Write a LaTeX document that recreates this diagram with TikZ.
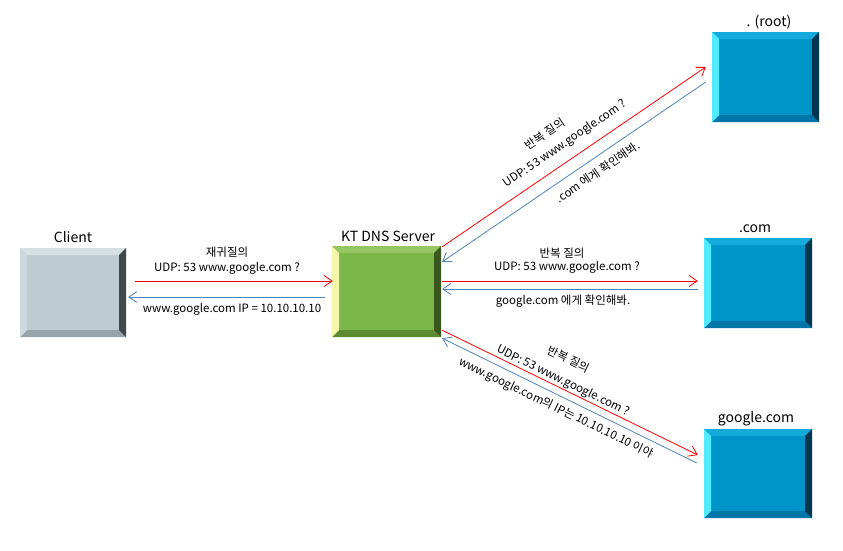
\documentclass[tikz,border=0pt]{standalone}
\usepackage{fontspec}
\setmainfont{Noto Sans CJK KR}
\usetikzlibrary{arrows.meta,calc}
\definecolor{redline}{HTML}{FF0000}
\definecolor{blueline}{HTML}{4F81BD}
\definecolor{gMain}{RGB}{189,204,209}
\definecolor{gTop}{RGB}{214,224,227}
\definecolor{gLeft}{RGB}{205,216,220}
\definecolor{gRight}{RGB}{64,74,77}
\definecolor{gBot}{RGB}{150,165,170}
\definecolor{vMain}{RGB}{122,182,72}
\definecolor{vTop}{RGB}{150,198,100}
\definecolor{vLeft}{RGB}{245,248,170}
\definecolor{vRight}{RGB}{58,88,30}
\definecolor{vBot}{RGB}{92,140,50}
\definecolor{bMain}{RGB}{0,148,200}
\definecolor{bTop}{RGB}{20,170,220}
\definecolor{bLeft}{RGB}{80,235,255}
\definecolor{bRight}{RGB}{0,55,80}
\definecolor{bBot}{RGB}{0,118,168}
\newcommand\mybevel[4]{%
  \path (path picture bounding box.north west) coordinate (bNW)
        (path picture bounding box.north east) coordinate (bNE)
        (path picture bounding box.south west) coordinate (bSW)
        (path picture bounding box.south east) coordinate (bSE);
  \fill[#1] (bNW) -- (bNE) -- ([xshift=-7pt,yshift=-7pt]bNE) -- ([xshift=7pt,yshift=-7pt]bNW) -- cycle;
  \fill[#4] (bSW) -- (bSE) -- ([xshift=-7pt,yshift=7pt]bSE) -- ([xshift=7pt,yshift=7pt]bSW) -- cycle;
  \fill[#2] (bNW) -- (bSW) -- ([xshift=7pt,yshift=7pt]bSW) -- ([xshift=7pt,yshift=-7pt]bNW) -- cycle;
  \fill[#3] (bNE) -- (bSE) -- ([xshift=-7pt,yshift=7pt]bSE) -- ([xshift=-7pt,yshift=-7pt]bNE) -- cycle;
}
\tikzset{
  box/.style={rectangle, inner sep=0pt},
  greybox/.style={box, fill=gMain, path picture={\mybevel{gTop}{gLeft}{gRight}{gBot}}},
  greenbox/.style={box, fill=vMain, path picture={\mybevel{vTop}{vLeft}{vRight}{vBot}}},
  bluebox/.style={box, fill=bMain, path picture={\mybevel{bTop}{bLeft}{bRight}{bBot}}},
  title/.style={font=\fontsize{14}{16}\selectfont, inner sep=0pt},
  lbl/.style={font=\fontsize{11.5}{13}\selectfont, inner sep=0pt},
  req/.style={draw=redline, line width=0.8pt, -{Straight Barb[length=8pt,width=11pt]}},
  rep/.style={draw=blueline, line width=0.8pt, -{Straight Barb[length=8pt,width=11pt]}},
}
\begin{document}
\begin{tikzpicture}[x=1pt,y=-1pt]
\useasboundingbox (0,0) rectangle (843,550);
% boxes
\node[greybox, minimum width=106pt, minimum height=89pt] (client) at (73,292.5) {};
\node[greenbox, minimum width=109pt, minimum height=91pt] (dns) at (386.5,291.5) {};
\node[bluebox, minimum width=107pt, minimum height=90pt] (root) at (765.5,77) {};
\node[bluebox, minimum width=108pt, minimum height=90pt] (com) at (758,283) {};
\node[bluebox, minimum width=108pt, minimum height=89pt] (google) at (758,473.5) {};
% titles
\node[title] (tclient) at (73,237) {Client};
\node[title] (tdns) at (388,236) {KT DNS Server};
\node[title] (troot) at (769,22) {. (root)};
\node[title] (tcom) at (755,229) {.com};
\node[title] (tgoogle) at (756,419) {google.com};
% client <-> dns
\draw[req] ($(client.east)+(9,-11.5)$) -- ($(dns.west)+(1,-10.5)$);
\draw[rep] ($(dns.west)+(-7,5.5)$) -- ($(client.east)+(2,4.5)$);
\node[lbl] (l1) at (227,252) {재귀질의};
\node[lbl] (l2) at (227,268) {UDP: 53 www.google.com ?};
\node[lbl] (l3) at (232,309) {www.google.com IP = 10.10.10.10};
% dns <-> root
\draw[req] ($(dns.north east)+(1,1)$) -- ($(root.west)+(-6,-10)$);
\draw[rep] ($(root.west)+(-6,5)$) -- ($(dns.north east)+(1,16)$);
\node[lbl, rotate=34.3] (r1) at (545,134) {반복 질의};
\node[lbl, rotate=34.3] (r2) at (565,144) {UDP: 53 www.google.com ?};
\node[lbl, rotate=34.3] (r3) at (598,172) {.com 에게 확인해봐.};
% dns <-> com
\draw[req] ($(dns.east)+(1,-10.5)$) -- ($(com.west)+(-6,-2)$);
\draw[rep] ($(com.west)+(-6,6)$) -- ($(dns.east)+(1,-2.5)$);
\node[lbl] (c1) at (562,253) {반복 질의};
\node[lbl] (c2) at (567,267) {UDP: 53 www.google.com ?};
\node[lbl] (c3) at (563,301) {google.com 에게 확인해봐.};
% dns <-> google
\draw[req] ($(dns.south east)+(1,-7)$) -- ($(google.west)+(-6,-18.5)$);
\draw[rep] ($(google.west)+(-7,-10.5)$) -- ($(dns.south east)+(1,1)$);
\node[lbl, rotate=-26] (g1) at (569,359) {반복 질의};
\node[lbl, rotate=-26] (g2) at (563,381) {UDP: 53 www.google.com ?};
\node[lbl, rotate=-26] (g3) at (556,408) {www.google.com의 IP는 10.10.10.10 이야};
\end{tikzpicture}
\end{document}
